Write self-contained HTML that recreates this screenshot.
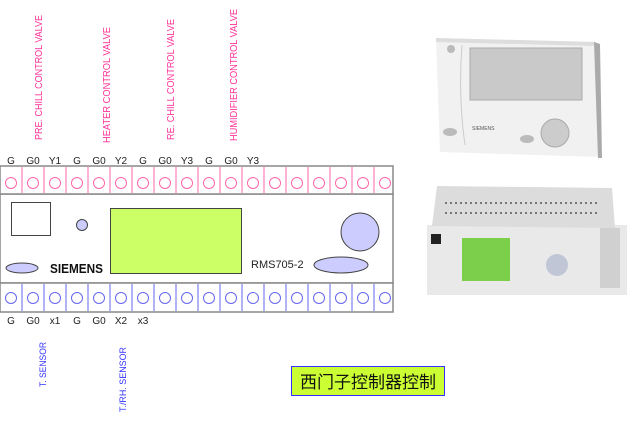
<!DOCTYPE html>
<html><head><meta charset="utf-8"><style>
html,body{margin:0;padding:0;background:#fff;width:637px;height:423px;overflow:hidden}
svg{display:block}
text{font-family:"Liberation Sans","Noto Sans CJK SC",sans-serif}
</style></head><body>
<svg width="637" height="423" viewBox="0 0 637 423" xmlns="http://www.w3.org/2000/svg">
<g fill="#ff3399" font-size="10">
<text transform="translate(42,140) rotate(-90)" textLength="125" lengthAdjust="spacingAndGlyphs">PRE. CHILL CONTROL VALVE</text>
<text transform="translate(110,143) rotate(-90)" textLength="116" lengthAdjust="spacingAndGlyphs">HEATER  CONTROL VALVE</text>
<text transform="translate(174,140) rotate(-90)" textLength="121" lengthAdjust="spacingAndGlyphs">RE. CHILL CONTROL VALVE</text>
<text transform="translate(237,141) rotate(-90)" textLength="132" lengthAdjust="spacingAndGlyphs">HUMIDIFIER CONTROL VALVE</text>
</g>
<g fill="#3333ff" font-size="9.5">
<text transform="translate(46,387) rotate(-90)" textLength="45" lengthAdjust="spacingAndGlyphs">T. SENSOR</text>
<text transform="translate(126,412) rotate(-90)" textLength="65" lengthAdjust="spacingAndGlyphs">T./RH. SENSOR</text>
</g>
<g font-size="10" fill="#222" text-anchor="middle">
<text x="11" y="164">G</text><text x="33" y="164">G0</text><text x="55" y="164">Y1</text>
<text x="77" y="164">G</text><text x="99" y="164">G0</text><text x="121" y="164">Y2</text>
<text x="143" y="164">G</text><text x="165" y="164">G0</text><text x="187" y="164">Y3</text>
<text x="209" y="164">G</text><text x="231" y="164">G0</text><text x="253" y="164">Y3</text>
<text x="11" y="324">G</text><text x="33" y="324">G0</text><text x="55" y="324">x1</text>
<text x="77" y="324">G</text><text x="99" y="324">G0</text><text x="121" y="324">X2</text>
<text x="143" y="324">x3</text>
</g>
<rect x="0" y="194" width="393" height="89" fill="#fff" stroke="#888" stroke-width="1.5"/>
<rect x="0" y="166" width="393" height="28" fill="#fff" stroke="#888" stroke-width="1.5"/>
<rect x="0" y="283" width="393" height="29" fill="#fff" stroke="#888" stroke-width="1.5"/>
<g stroke="#ff66aa" stroke-width="1" fill="none">
<path d="M22,167V193M44,167V193M66,167V193M88,167V193M110,167V193M132,167V193M154,167V193M176,167V193M198,167V193M220,167V193M242,167V193M264,167V193M286,167V193M308,167V193M330,167V193M352,167V193M374,167V193"/>
<circle cx="11" cy="183" r="5.5"/><circle cx="33" cy="183" r="5.5"/><circle cx="55" cy="183" r="5.5"/><circle cx="77" cy="183" r="5.5"/><circle cx="99" cy="183" r="5.5"/><circle cx="121" cy="183" r="5.5"/><circle cx="143" cy="183" r="5.5"/><circle cx="165" cy="183" r="5.5"/><circle cx="187" cy="183" r="5.5"/><circle cx="209" cy="183" r="5.5"/><circle cx="231" cy="183" r="5.5"/><circle cx="253" cy="183" r="5.5"/><circle cx="275" cy="183" r="5.5"/><circle cx="297" cy="183" r="5.5"/><circle cx="319" cy="183" r="5.5"/><circle cx="341" cy="183" r="5.5"/><circle cx="363" cy="183" r="5.5"/><circle cx="385" cy="183" r="5.5"/>
</g>
<g stroke="#6666ee" stroke-width="1" fill="none">
<path d="M22,284V311M44,284V311M66,284V311M88,284V311M110,284V311M132,284V311M154,284V311M176,284V311M198,284V311M220,284V311M242,284V311M264,284V311M286,284V311M308,284V311M330,284V311M352,284V311M374,284V311"/>
<circle cx="11" cy="298" r="5.5"/><circle cx="33" cy="298" r="5.5"/><circle cx="55" cy="298" r="5.5"/><circle cx="77" cy="298" r="5.5"/><circle cx="99" cy="298" r="5.5"/><circle cx="121" cy="298" r="5.5"/><circle cx="143" cy="298" r="5.5"/><circle cx="165" cy="298" r="5.5"/><circle cx="187" cy="298" r="5.5"/><circle cx="209" cy="298" r="5.5"/><circle cx="231" cy="298" r="5.5"/><circle cx="253" cy="298" r="5.5"/><circle cx="275" cy="298" r="5.5"/><circle cx="297" cy="298" r="5.5"/><circle cx="319" cy="298" r="5.5"/><circle cx="341" cy="298" r="5.5"/><circle cx="363" cy="298" r="5.5"/><circle cx="385" cy="298" r="5.5"/>
</g>
<rect x="11.5" y="202.5" width="39" height="33" fill="#fff" stroke="#444"/>
<circle cx="82" cy="225" r="5.5" fill="#ccccff" stroke="#444"/>
<rect x="110.5" y="208.5" width="131" height="65" fill="#ccff66" stroke="#444"/>
<circle cx="360" cy="232" r="19" fill="#ccccff" stroke="#444"/>
<ellipse cx="22" cy="268" rx="16" ry="5" fill="#ccccff" stroke="#444"/>
<ellipse cx="341" cy="265" rx="27" ry="8" fill="#ccccff" stroke="#444"/>
<text x="50" y="273" font-size="13" font-weight="bold" fill="#111" textLength="53" lengthAdjust="spacingAndGlyphs">SIEMENS</text>
<text x="251" y="268" font-size="11" fill="#222">RMS705-2</text>
<rect x="291.5" y="366.5" width="153" height="29" fill="#ccff33" stroke="#3333ff"/>
<text x="368" y="388" font-size="17" text-anchor="middle" fill="#111">西门子控制器控制</text>
<path d="M436,38 L596,42 L600,157 L440,152 Z" fill="#f1f1f1"/>
<path d="M436,38 L596,42 L596,46 L436,42Z" fill="#ddd"/>
<path d="M594,42 L600,44 L602,158 L598,158Z" fill="#aaa"/>
<path d="M462,45 Q458,95 465,145" stroke="#ccc" fill="none"/>
<rect x="470" y="48" width="112" height="52" fill="#c9c9c9" stroke="#aaa"/>
<circle cx="451" cy="49" r="4" fill="#bbb"/>
<ellipse cx="450" cy="132" rx="7" ry="4" fill="#bbb"/>
<ellipse cx="527" cy="139" rx="7" ry="4" fill="#bbb"/>
<circle cx="555" cy="133" r="14" fill="#ccc" stroke="#aaa"/>
<text x="472" y="130" font-size="5" fill="#555">SIEMENS</text>
<rect x="427" y="225" width="200" height="70" fill="#e9e9e9"/>
<path d="M437,186 L612,188 L615,228 L432,226Z" fill="#dcdcdc"/>
<path d="M445,203 H600 M445,213 H600" stroke="#777" stroke-width="2" stroke-dasharray="2,3"/>
<rect x="431" y="234" width="10" height="10" fill="#222"/>
<rect x="462" y="238" width="48" height="43" fill="#7ccf4a"/>
<circle cx="557" cy="265" r="11" fill="#c0c6d6"/>
<rect x="600" y="228" width="20" height="60" fill="#d0d0d0"/>
</svg>
</body></html>
